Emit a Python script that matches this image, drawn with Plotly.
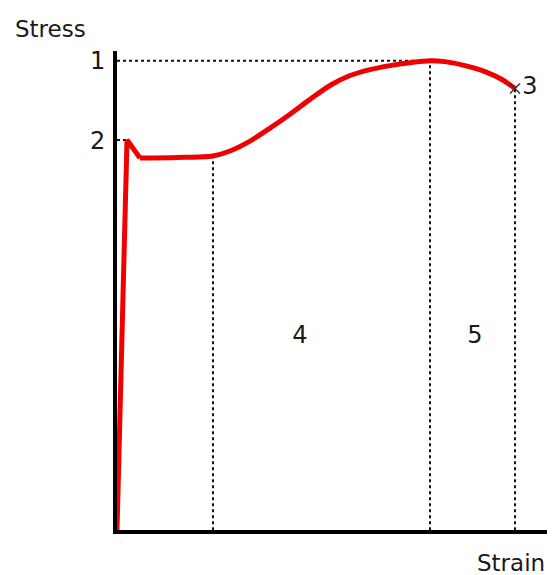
"""Stress-strain curve sketch."""
import plotly.graph_objects as go

# elastic part (straight) and plastic part (smooth), strain vs stress
elastic_strain = [0.0, 0.10, 0.23]
elastic_stress = [0.0, 3.93, 3.75]
plastic_strain = [0.23, 0.60, 0.96, 1.13, 1.33, 1.53, 1.73, 1.93, 2.13, 2.33,
                  2.53, 2.73, 2.93, 3.13, 3.28, 3.48, 3.68, 3.85, 3.98]
plastic_stress = [3.75, 3.755, 3.77, 3.82, 3.92, 4.05, 4.19, 4.34, 4.48, 4.58,
                  4.64, 4.68, 4.71, 4.73, 4.72, 4.68, 4.62, 4.54, 4.45]

# key points: 1 ultimate strength, 2 yield strength, 3 fracture, end of yield plateau
uts = (3.13, 4.73)
yield_pt = (0.10, 3.93)
fracture = (3.98, 4.45)
plateau_end = (0.96, 3.77)

region_labels = ["4", "5"]
region_x = [1.83, 3.58]
region_y = [1.95, 1.95]

FONT = "DejaVu Sans"
TXT = "#1a1a1a"
W, H = 547, 567  # page body adds 8px offset

fig = go.Figure()

dot = dict(color="#111111", width=2, dash="dot")
# dotted guide lines
fig.add_trace(go.Scatter(x=[0, uts[0]], y=[uts[1], uts[1]], mode="lines", line=dot))
fig.add_trace(go.Scatter(x=[0, yield_pt[0]], y=[yield_pt[1], yield_pt[1]], mode="lines", line=dot))
for px, py in [plateau_end, uts, fracture]:
    fig.add_trace(go.Scatter(x=[px, px], y=[0, py], mode="lines", line=dot))

# curve
fig.add_trace(go.Scatter(x=elastic_strain, y=elastic_stress, mode="lines",
                         line=dict(color="#f00000", width=5)))
fig.add_trace(go.Scatter(x=plastic_strain, y=plastic_stress, mode="lines",
                         line=dict(color="#f00000", width=5, shape="spline", smoothing=0.8)))

# fracture marker
fig.add_trace(go.Scatter(x=[fracture[0]], y=[fracture[1]], mode="markers+text",
                         marker=dict(symbol="x-thin", size=10, line=dict(color="#333333", width=1.5)),
                         text=["3"], textposition="middle right",
                         textfont=dict(family=FONT, size=24, color=TXT)))

# region labels
fig.add_trace(go.Scatter(x=region_x, y=region_y, mode="text", text=region_labels,
                         textfont=dict(family=FONT, size=24, color=TXT)))

fig.update_layout(
    width=W, height=H,
    margin=dict(l=0, r=0, t=0, b=0),
    paper_bgcolor="white", plot_bgcolor="white",
    showlegend=False,
    xaxis=dict(domain=[109 / W, 1], range=[0, 4.38], showgrid=False, zeroline=False,
               showline=True, linecolor="black", linewidth=4, showticklabels=False,
               ticks=""),
    yaxis=dict(domain=[45 / H, 528 / H], range=[0, 4.83], showgrid=False, zeroline=False,
               showline=True, linecolor="black", linewidth=4, ticks="",
               tickvals=[uts[1], yield_pt[1]], ticktext=["1", "2"],
               tickfont=dict(family=FONT, size=24, color=TXT), ticklabelstandoff=3),
    annotations=[
        dict(text="Stress", x=42 / W, y=(H - 17) / H, xref="paper", yref="paper",
             showarrow=False, xanchor="center", yanchor="middle",
             font=dict(family=FONT, size=23, color=TXT)),
        dict(text="Strain", x=503 / W, y=12 / H, xref="paper", yref="paper",
             showarrow=False, xanchor="center", yanchor="middle",
             font=dict(family=FONT, size=23, color=TXT)),
    ],
)

fig.write_html("out.html")
